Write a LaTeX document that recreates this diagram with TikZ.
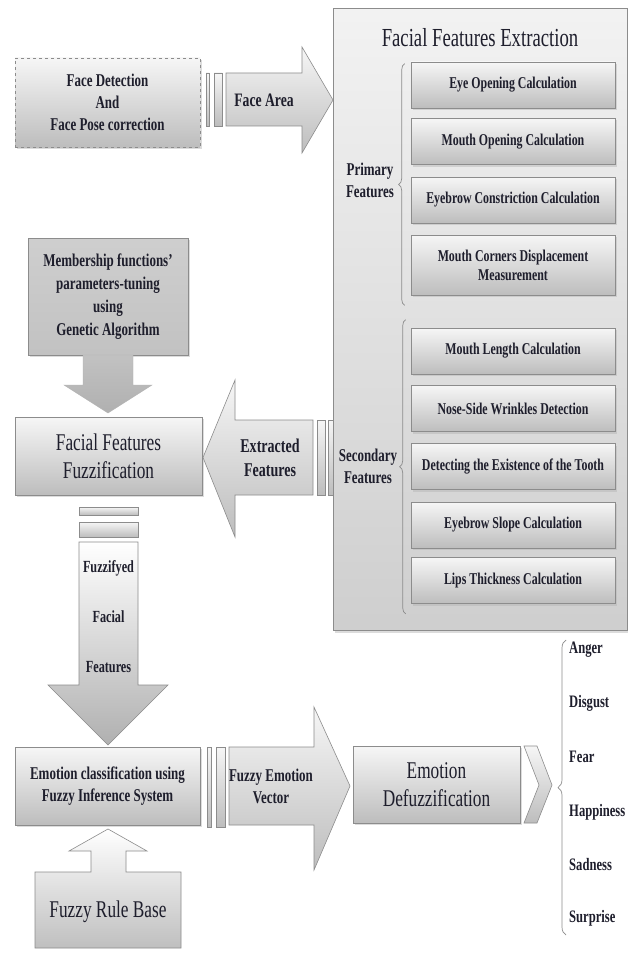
\documentclass[tikz,border=0pt]{standalone}
\usepackage{fontspec}
\setmainfont{Liberation Serif}[FakeStretch=0.72]
\usepackage{tikz}
\usetikzlibrary{shadows, decorations.pathreplacing, calc}
\definecolor{ctext}{HTML}{1E1E2C}
\definecolor{cedge}{HTML}{8C8C8C}
\definecolor{clight}{HTML}{F6F6F6}
\definecolor{cmid}{HTML}{BDBDBD}
\definecolor{cdark}{HTML}{A4A4A4}

\begin{document}
\begin{tikzpicture}[
    x=1pt, y=-1pt,
    font=\bfseries\fontsize{18}{22}\selectfont,
    text=ctext,
    box/.style={
        rectangle, draw=cedge, line width=0.6pt, align=center,
        top color=clight, bottom color=cmid, inner sep=2pt,
        drop shadow={shadow xshift=1.5pt, shadow yshift=-2pt,
            fill=gray!60, opacity=0.45}
    },
    subbox/.style={
        box, minimum width=204pt, minimum height=46pt,
        font=\bfseries\fontsize{16.5}{19}\selectfont
    },
    panel/.style={
        rectangle, draw=cedge, line width=0.6pt,
        top color=gray!10, bottom color=gray!38,
        drop shadow={shadow xshift=1.5pt, shadow yshift=-2.5pt,
            fill=gray!60, opacity=0.45}
    },
    bigfont/.style={font=\mdseries\fontsize{24}{28}\selectfont},
    bigarrow/.style={draw=cedge, line width=0.6pt,
        top color=clight, bottom color=cmid},
    bar/.style={draw=cedge, line width=0.6pt,
        top color=clight, bottom color=cmid},
    lbl/.style={align=center},
    emotion/.style={anchor=west, inner sep=1pt,
        font=\bfseries\fontsize{17.5}{21}\selectfont},
    brace/.style={decorate, decoration={brace, amplitude=6pt},
        draw=cedge, line width=0.7pt},
]

% --- Canvas ------------------------------------------------------------------
\fill[white] (0,0) rectangle (628,955);
\useasboundingbox (0,0) rectangle (628,955);

% --- Face detection (top left) ----------------------------------------------
\node[box, dashed, minimum width=185pt, minimum height=89pt] (detect)
    at (107.5,102.5) {Face Detection\\And\\Face Pose correction};

% --- Face Area arrow ---------------------------------------------------------
\draw[bar] (206,73) rectangle (209,126);
\draw[bar] (214,73) rectangle (222,126);
\path[bigarrow] (226,73) -- (302,73) -- (302,47) -- (333,100)
    -- (302,153) -- (302,126) -- (226,126) -- cycle;
\node[lbl, font=\bfseries\fontsize{19}{22}\selectfont] (facearea)
    at (264,100) {Face Area};

% --- Extraction panel --------------------------------------------------------
\node[panel, anchor=north west, minimum width=294pt, minimum height=622pt]
    (extract) at (333,8) {};
\node[font=\mdseries\fontsize{26}{30}\selectfont] (exttitle) at (480,38)
    {Facial Features Extraction};

% primary features
\node[subbox] (eye)     at (513,85)    {Eye Opening Calculation};
\node[subbox] (mopen)   at (513,141.5) {Mouth Opening Calculation};
\node[subbox] (ebcon)   at (513,200)   {Eyebrow Constriction Calculation};
\node[subbox, minimum height=60pt] (mcorner) at (513,265)
    {Mouth Corners Displacement\\Measurement};
% secondary features
\node[subbox] (mlen)    at (513,351)   {Mouth Length Calculation};
\node[subbox] (nose)    at (513,408.5) {Nose-Side Wrinkles Detection};
\node[subbox] (tooth)   at (513,466.5) {Detecting the Existence of the Tooth};
\node[subbox] (ebslope) at (513,525)   {Eyebrow Slope Calculation};
\node[subbox] (lips)    at (513,580.5) {Lips Thickness Calculation};

\draw[brace] ([xshift=-6pt, yshift=-10pt]mcorner.south west)
    -- ([xshift=-6pt, yshift=-2pt]eye.north west);
\draw[brace] ([xshift=-5pt, yshift=-10pt]lips.south west)
    -- ([xshift=-5pt, yshift=8pt]mlen.north west);
\node[lbl] (primary)   at (370,180) {Primary\\Features};
\node[lbl] (secondary) at (368,466) {Secondary\\Features};

% --- Parameter tuning -> fuzzification ---------------------------------------
\node[box, minimum width=160pt, minimum height=117pt,
    top color=gray!38, middle color=gray!4, bottom color=gray!48,
    font=\bfseries\fontsize{18}{23}\selectfont] (tuning) at (108,296.5)
    {Membership functions'\\parameters-tuning\\using\\Genetic Algorithm};
\path[draw=gray!60, top color=gray!48, bottom color=gray!62]
    (83,355) -- (133,355) -- (133,385) -- (152,385) -- (108,413)
    -- (64,385) -- (83,385) -- cycle;

\node[box, bigfont, minimum width=187pt, minimum height=78pt] (fuzzify)
    at (108.5,456) {Facial Features\\Fuzzification};

% --- Extracted Features arrow (right to left) --------------------------------
\draw[bar] (317,420) rectangle (325,495);
\draw[bar] (328,420) rectangle (333,495);
\path[bigarrow] (313,420) -- (235,420) -- (235,380) -- (203,457.5)
    -- (235,537) -- (235,495) -- (313,495) -- cycle;
\node[lbl, font=\bfseries\fontsize{19.5}{24}\selectfont] (extracted)
    at (270,457.5) {Extracted\\Features};

% --- Fuzzifyed features arrow (down) -----------------------------------------
\draw[bar] (79,507) rectangle (138,515);
\draw[bar] (79,522) rectangle (138,537);
\path[draw=cedge, line width=0.6pt, top color=white, bottom color=gray!62]
    (79,542) -- (138,542) -- (138,685) -- (168,685) -- (108,745)
    -- (48,685) -- (79,685) -- cycle;
\node[lbl, font=\bfseries\fontsize{17}{50}\selectfont] (fuzzified)
    at (108.5,617) {Fuzzifyed\\Facial\\Features};

% --- Bottom row ---------------------------------------------------------------
\node[box, minimum width=185pt, minimum height=78pt] (classify)
    at (107.5,786) {Emotion classification using\\Fuzzy Inference System};

\draw[bar] (207,747) rectangle (211,827);
\draw[bar] (216,747) rectangle (225,827);
\path[bigarrow] (229,747) -- (314,747) -- (314,707) -- (350,786)
    -- (314,870) -- (314,825) -- (229,825) -- cycle;
\node[lbl] (emovector) at (271,786) {Fuzzy Emotion\\Vector};

\node[box, bigfont, minimum width=167pt, minimum height=77pt] (defuzz)
    at (436.5,784.5) {Emotion\\Defuzzification};
\path[bigarrow] (524,746) -- (537,746) -- (552,785) -- (537,823)
    -- (524,823) -- (539,785) -- cycle;

% --- Rule base (box with arrow on top) ---------------------------------------
\path[draw=cedge, line width=0.6pt, top color=white, bottom color=gray!50]
    (35,948) -- (35,872) -- (91,872) -- (91,851) -- (69,851) -- (108,829)
    -- (147,851) -- (126,851) -- (126,872) -- (181,872) -- (181,948) -- cycle;
\node[bigfont] (rulebase) at (108,912) {Fuzzy Rule Base};

% --- Emotions -----------------------------------------------------------------
\draw[brace, decoration={amplitude=8pt}] (566,935) -- (566,640);
\node[emotion] (anger)     at (568,650) {Anger};
\node[emotion] (disgust)   at (568,703) {Disgust};
\node[emotion] (fear)      at (568,757) {Fear};
\node[emotion] (happiness) at (568,812) {Happiness};
\node[emotion] (sadness)   at (568,865) {Sadness};
\node[emotion] (surprise)  at (568,918) {Surprise};

\end{tikzpicture}
\end{document}
